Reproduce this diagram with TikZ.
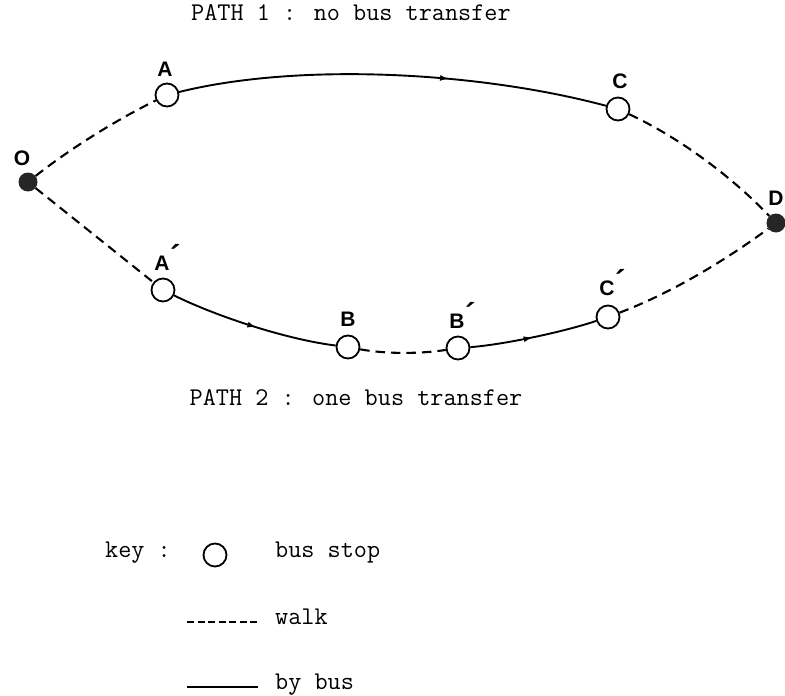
\documentclass[tikz,border=0pt]{standalone}
\usepackage{fontspec}
\newfontfamily\lblfont{Liberation Sans}
\usetikzlibrary{arrows.meta,decorations.markings}
\tikzset{
  stop/.style={circle, draw, line width=1.8pt, minimum size=23pt, inner sep=0pt, fill=white},
  endpt/.style={circle, fill=black!85, minimum size=19pt, inner sep=0pt},
  walk/.style={line width=2.1pt, dash pattern=on 9.5pt off 6pt},
  bus/.style={line width=1.9pt},
  busarrow/.style={decoration={markings, mark=at position #1 with {\arrow{Latex[length=9pt,width=6pt]}}}, postaction={decorate}},
  lbl/.style={font=\lblfont\bfseries\fontsize{21}{23}\selectfont, anchor=base, inner sep=0pt},
  tt/.style={font=\ttfamily\fontsize{25.5}{28}\selectfont, inner sep=0pt}
}
\newcommand{\prm}{\rlap{\raisebox{0.12em}{\kern0.5pt\scalebox{1.5}{´}}}}
\begin{document}
\begin{tikzpicture}[x=1pt,y=-1pt]
\useasboundingbox (0,0) rectangle (785,696);

% titles
\node[tt, anchor=mid] (t1) at (351,18) {PATH 1 : no bus transfer};
\node[tt, anchor=mid] (t2) at (356,403) {PATH 2 : one bus transfer};

% end points and stops
\node[endpt] (O) at (28,182) {};
\node[endpt] (D) at (776,223) {};
\node[stop] (A) at (167,95) {};
\node[stop] (C) at (618,109) {};
\node[stop] (A2) at (163,290) {};
\node[stop] (B) at (348,347) {};
\node[stop] (B2) at (458,348) {};
\node[stop] (C2) at (608,317) {};

% labels
\node[lbl] (lO) at (22,165) {O};
\node[lbl] (lA) at (165,76) {A};
\node[lbl] (lC) at (620,88) {C};
\node[lbl] (lD) at (776,205) {D};
\node[lbl] (lA2) at (162,270) {A\prm};
\node[lbl] (lB) at (348,326) {B};
\node[lbl] (lB2) at (457,328) {B\prm};
\node[lbl] (lC2) at (607,295) {C\prm};

% path 1
\draw[walk] (O) .. controls (71,148) and (118,119) .. (A);
\draw[bus, busarrow=0.63] (A) .. controls (300,62) and (480,72) .. (C);
\draw[walk] (C) .. controls (678,137) and (730,175) .. (D);

% path 2
\draw[walk] (O) -- (A2);
\draw[bus, busarrow=0.52] (A2) .. controls (220,318) and (290,340) .. (B);
\draw[walk] (B) .. controls (385,354) and (420,354) .. (B2);
\draw[bus, busarrow=0.49] (B2) .. controls (500,345) and (560,333) .. (C2);
\draw[walk] (C2) .. controls (669,294) and (723,262) .. (D);

% key
\node[tt, anchor=mid] (key) at (138,555) {key :};
\node[stop] (ks) at (215,555) {};
\node[tt, anchor=mid west] (kst) at (275,555) {bus stop};
\coordinate (w1) at (187,622);
\coordinate (w2) at (258,622);
\draw[line width=2pt, dash pattern=on 7pt off 3.5pt] (w1) -- (w2);
\node[tt, anchor=mid west] (kw) at (275,622) {walk};
\coordinate (b1) at (187,687);
\coordinate (b2) at (258,687);
\draw[bus] (b1) -- (b2);
\node[tt, anchor=mid west] (kb) at (275,687) {by bus};
\end{tikzpicture}
\end{document}
